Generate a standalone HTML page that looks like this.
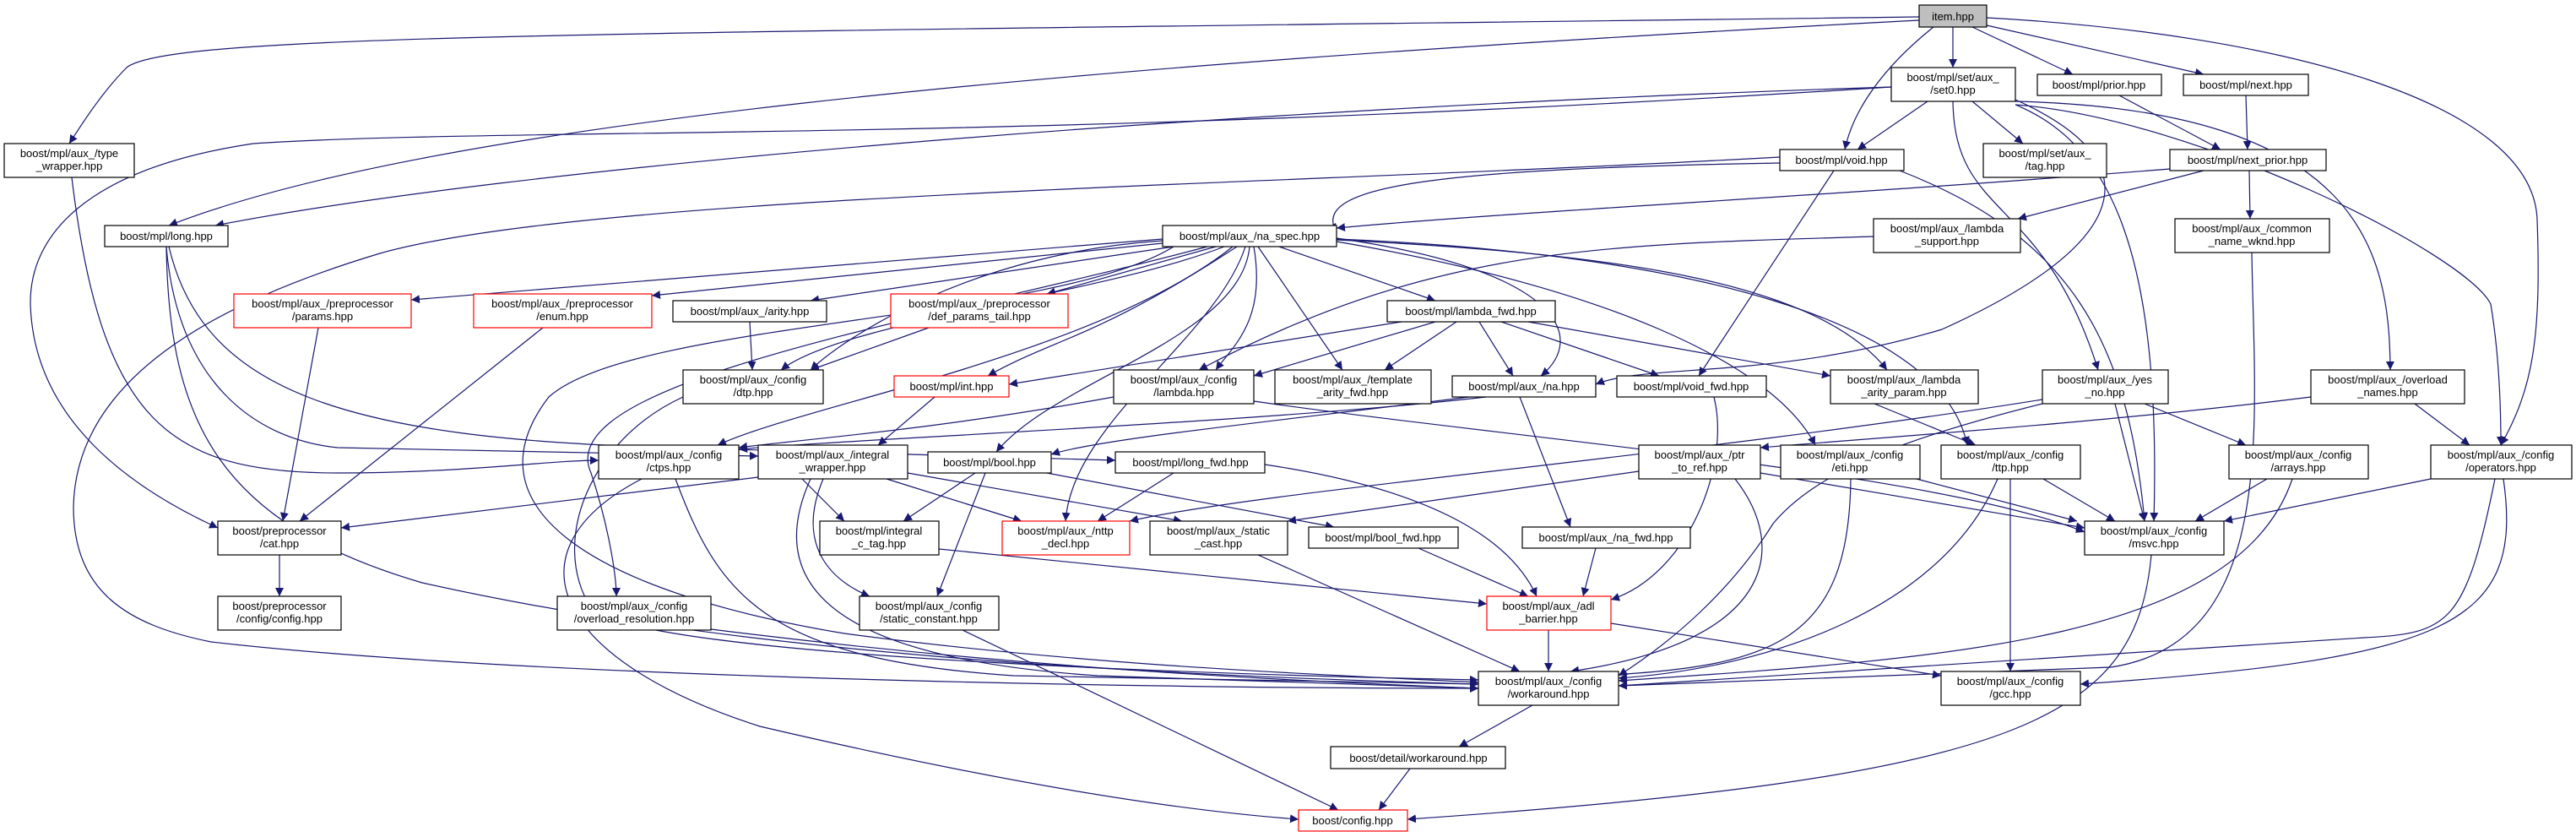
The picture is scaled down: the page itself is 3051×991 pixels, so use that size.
<!DOCTYPE html>
<html><head><meta charset="utf-8"><style>
html,body{margin:0;padding:0;background:#fff;}
svg{display:block;}
text{font-family:"Liberation Sans",sans-serif;font-size:13px;fill:#000;text-anchor:middle;}
.n{fill:#fff;stroke:#000;stroke-width:1.2;}
.r{fill:#fff;stroke:#ff0000;stroke-width:1.2;}
.e{fill:none;stroke:#191970;stroke-width:1.2;}
</style></head><body>
<svg width="3051" height="991" viewBox="0 0 3051 991" xmlns="http://www.w3.org/2000/svg">
<defs><marker id="a" viewBox="0 0 10 10" refX="10" refY="5" markerWidth="10" markerHeight="10" markerUnits="userSpaceOnUse" orient="auto"><path d="M0,0 L10,5 L0,10 z" fill="#191970"/></marker></defs>
<g class="e" marker-end="url(#a)">
<path d="M2273,20 C700,40 200,40 150,80 C120,110 95,150 82,170"/>
<path d="M2273,24 C1200,80 500,150 200,267"/>
<path d="M2290,32 C2230,80 2195,130 2185,177"/>
<path d="M2313,32 L2313,80"/>
<path d="M2336,32 L2455,88"/>
<path d="M2353,30 L2610,88"/>
<path d="M2353,21 C2700,40 3000,120 3005,260 C3010,400 3000,460 2962,527"/>
<path d="M2240,103 C1400,130 600,200 255,267"/>
<path d="M2283,120 L2200,177"/>
<path d="M2336,120 L2396,170"/>
<path d="M2313,120 C2315,260 2420,230 2485,438"/>
<path d="M2387,120 C2800,130 2830,300 2831,438"/>
<path d="M2387,124 C2600,140 2920,300 2950,360 C2960,420 2962,480 2962,527"/>
<path d="M2387,118 C2570,200 2500,300 2300,390 C2100,450 1950,430 1890,455"/>
<path d="M2240,103 C1200,170 600,150 300,170 C100,200 35,280 36,360 C40,500 160,580 258,625"/>
<path d="M2387,124 C2500,170 2560,300 2551,617"/>
<path d="M2510,113 L2630,177"/>
<path d="M2660,113 L2662,177"/>
<path d="M2570,200 C2200,230 1800,250 1583,270"/>
<path d="M2610,202 L2390,259"/>
<path d="M2664,202 L2665,259"/>
<path d="M2667,299 C2670,500 2700,760 2500,790 L1917,812"/>
<path d="M2108,193 C1700,200 1550,220 1583,275"/>
<path d="M2172,202 L2012,445"/>
<path d="M2250,202 C2450,280 2520,400 2540,617"/>
<path d="M2108,186 C1500,220 700,230 450,300 C250,360 90,450 87,600 C87,700 150,740 250,760 C600,800 1300,815 1751,815"/>
<path d="M2219,280 C1900,290 1700,290 1420,438"/>
<path d="M1377,283 L487,355"/>
<path d="M1377,288 L772,350"/>
<path d="M1390,292 L960,356"/>
<path d="M1440,292 L1240,348"/>
<path d="M1450,292 C1300,350 1000,380 925,438"/>
<path d="M1377,285 C1150,300 1000,400 960,438"/>
<path d="M1465,292 C1300,400 1250,400 1170,445"/>
<path d="M1485,292 C1500,380 1460,410 1440,438"/>
<path d="M1490,292 L1590,438"/>
<path d="M1515,292 L1700,356"/>
<path d="M1583,282 C1850,320 1880,400 1825,445"/>
<path d="M1583,284 C1900,300 2150,330 2235,438"/>
<path d="M1583,283 C2000,300 2300,380 2330,527"/>
<path d="M1583,286 C1900,340 2100,430 2150,527"/>
<path d="M1475,292 C1440,400 1270,500 1262,617"/>
<path d="M1480,292 C1470,400 1250,450 1180,535"/>
<path d="M1460,292 C1300,420 950,480 850,527"/>
<path d="M1430,292 C1100,380 650,450 700,560 C720,620 730,680 730,706"/>
<path d="M1390,292 C1250,380 750,380 650,470 C550,600 700,700 1000,750 C1300,790 1600,800 1751,808"/>
<path d="M1660,381 L1195,455"/>
<path d="M1700,381 L1485,445"/>
<path d="M1725,381 L1640,438"/>
<path d="M1752,381 L1792,445"/>
<path d="M1778,381 L1965,445"/>
<path d="M1810,381 L2168,445"/>
<path d="M197,292 C210,450 300,520 400,530 L898,540"/>
<path d="M200,292 C240,460 400,520 800,530 C1000,535 1200,540 1321,545"/>
<path d="M197,292 C200,500 260,620 500,690 C900,780 1400,800 1751,810"/>
<path d="M85,210 C120,500 200,560 400,560 C550,560 650,545 709,545"/>
<path d="M377,388 L335,617"/>
<path d="M643,388 L355,617"/>
<path d="M888,381 L891,438"/>
<path d="M1100,388 L960,438"/>
<path d="M809,470 C700,520 650,640 700,720 C760,780 1500,800 1751,805"/>
<path d="M1107,470 L1040,527"/>
<path d="M1319,470 C1100,510 950,520 875,530"/>
<path d="M1485,475 C1800,520 2300,560 2469,630"/>
<path d="M1740,470 C1500,500 1300,520 1245,538"/>
<path d="M1760,470 C1500,500 1000,520 875,532"/>
<path d="M1800,470 L1860,624"/>
<path d="M2030,470 C2050,550 2000,680 1908,710"/>
<path d="M2220,478 L2340,527"/>
<path d="M2737,470 C2500,500 2200,520 2085,530"/>
<path d="M2540,478 L2660,527"/>
<path d="M2505,478 L2540,617"/>
<path d="M2419,473 C2000,540 1500,580 1338,617"/>
<path d="M2419,478 C2250,520 2150,560 2100,620 C2050,700 1980,760 1917,800"/>
<path d="M2860,478 L2925,527"/>
<path d="M898,565 L404,625"/>
<path d="M800,567 C850,700 900,780 1200,800 L1751,810"/>
<path d="M760,567 C600,650 650,780 900,860 C1200,930 1400,960 1538,970"/>
<path d="M950,567 L1000,617"/>
<path d="M1050,567 L1210,617"/>
<path d="M975,567 C940,650 990,690 1030,706"/>
<path d="M960,567 C900,700 1000,780 1300,800 L1751,815"/>
<path d="M1075,560 L1400,617"/>
<path d="M1155,560 L1070,617"/>
<path d="M1167,560 L1110,706"/>
<path d="M1240,560 L1580,624"/>
<path d="M1390,560 L1300,617"/>
<path d="M1498,550 C1700,580 1790,640 1820,706"/>
<path d="M1112,650 L1761,715"/>
<path d="M1140,746 L1585,959"/>
<path d="M1490,657 L1800,795"/>
<path d="M1680,649 L1810,706"/>
<path d="M1890,649 L1875,706"/>
<path d="M1834,746 L1834,795"/>
<path d="M1908,738 L2299,800"/>
<path d="M1815,835 L1728,884"/>
<path d="M1670,910 L1633,959"/>
<path d="M2548,657 C2530,850 2400,920 1667,970"/>
<path d="M2085,560 L2469,625"/>
<path d="M1941,558 L1525,617"/>
<path d="M2055,567 C2120,650 2100,760 1860,795"/>
<path d="M2270,567 L2460,617"/>
<path d="M2192,567 C2190,760 2100,790 1890,800"/>
<path d="M2366,567 C2300,720 2100,790 1917,803"/>
<path d="M2381,567 L2381,795"/>
<path d="M2420,567 L2505,617"/>
<path d="M2685,567 L2600,617"/>
<path d="M2715,567 C2650,760 2300,780 1917,806"/>
<path d="M2879,567 L2634,617"/>
<path d="M2955,567 C2920,740 2900,750 2800,755 L1917,812"/>
<path d="M2965,567 C2990,740 2900,780 2464,810"/>
<path d="M842,745 C1200,790 1500,805 1751,815"/>
<path d="M331,657 L331,706"/>
</g>
<g>
<rect x="2273" y="6" width="80" height="26" fill="#bfbfbf" stroke="#000" stroke-width="1.2"/><text x="2313" y="24">item.hpp</text>
<rect class="n" x="5" y="170" width="154" height="40"/><text x="82" y="186">boost/mpl/aux_/type</text><text x="82" y="201">_wrapper.hpp</text>
<rect class="n" x="124" y="267" width="146" height="25"/><text x="197" y="284">boost/mpl/long.hpp</text>
<rect class="r" x="277" y="348" width="210" height="40"/><text x="382" y="364">boost/mpl/aux_/preprocessor</text><text x="382" y="379">/params.hpp</text>
<rect class="r" x="561" y="348" width="211" height="40"/><text x="666" y="364">boost/mpl/aux_/preprocessor</text><text x="666" y="379">/enum.hpp</text>
<rect class="n" x="797" y="356" width="182" height="25"/><text x="888" y="373">boost/mpl/aux_/arity.hpp</text>
<rect class="n" x="809" y="438" width="166" height="40"/><text x="892" y="454">boost/mpl/aux_/config</text><text x="892" y="469">/dtp.hpp</text>
<rect class="n" x="1377" y="267" width="206" height="25"/><text x="1480" y="284">boost/mpl/aux_/na_spec.hpp</text>
<rect class="r" x="1055" y="348" width="210" height="40"/><text x="1160" y="364">boost/mpl/aux_/preprocessor</text><text x="1160" y="379">/def_params_tail.hpp</text>
<rect class="n" x="1643" y="356" width="199" height="25"/><text x="1742" y="373">boost/mpl/lambda_fwd.hpp</text>
<rect class="r" x="1059" y="445" width="136" height="25"/><text x="1127" y="462">boost/mpl/int.hpp</text>
<rect class="n" x="1319" y="438" width="166" height="40"/><text x="1402" y="454">boost/mpl/aux_/config</text><text x="1402" y="469">/lambda.hpp</text>
<rect class="n" x="1510" y="438" width="185" height="40"/><text x="1602" y="454">boost/mpl/aux_/template</text><text x="1602" y="469">_arity_fwd.hpp</text>
<rect class="n" x="1720" y="445" width="170" height="25"/><text x="1805" y="462">boost/mpl/aux_/na.hpp</text>
<rect class="n" x="1915" y="445" width="177" height="25"/><text x="2003" y="462">boost/mpl/void_fwd.hpp</text>
<rect class="n" x="2240" y="80" width="147" height="40"/><text x="2313" y="96">boost/mpl/set/aux_</text><text x="2313" y="111">/set0.hpp</text>
<rect class="n" x="2413" y="88" width="147" height="25"/><text x="2486" y="105">boost/mpl/prior.hpp</text>
<rect class="n" x="2586" y="88" width="148" height="25"/><text x="2660" y="105">boost/mpl/next.hpp</text>
<rect class="n" x="2108" y="177" width="147" height="25"/><text x="2181" y="194">boost/mpl/void.hpp</text>
<rect class="n" x="2349" y="170" width="146" height="40"/><text x="2422" y="186">boost/mpl/set/aux_</text><text x="2422" y="201">/tag.hpp</text>
<rect class="n" x="2570" y="177" width="185" height="25"/><text x="2662" y="194">boost/mpl/next_prior.hpp</text>
<rect class="n" x="2219" y="259" width="174" height="40"/><text x="2306" y="275">boost/mpl/aux_/lambda</text><text x="2306" y="290">_support.hpp</text>
<rect class="n" x="2576" y="259" width="183" height="40"/><text x="2667" y="275">boost/mpl/aux_/common</text><text x="2667" y="290">_name_wknd.hpp</text>
<rect class="n" x="2168" y="438" width="175" height="40"/><text x="2255" y="454">boost/mpl/aux_/lambda</text><text x="2255" y="469">_arity_param.hpp</text>
<rect class="n" x="2419" y="438" width="149" height="40"/><text x="2493" y="454">boost/mpl/aux_/yes</text><text x="2493" y="469">_no.hpp</text>
<rect class="n" x="2737" y="438" width="182" height="40"/><text x="2828" y="454">boost/mpl/aux_/overload</text><text x="2828" y="469">_names.hpp</text>
<rect class="n" x="709" y="527" width="166" height="40"/><text x="792" y="543">boost/mpl/aux_/config</text><text x="792" y="558">/ctps.hpp</text>
<rect class="n" x="898" y="527" width="177" height="40"/><text x="986" y="543">boost/mpl/aux_/integral</text><text x="986" y="558">_wrapper.hpp</text>
<rect class="n" x="258" y="617" width="146" height="40"/><text x="331" y="633">boost/preprocessor</text><text x="331" y="648">/cat.hpp</text>
<rect class="n" x="258" y="706" width="146" height="40"/><text x="331" y="722">boost/preprocessor</text><text x="331" y="737">/config/config.hpp</text>
<rect class="n" x="660" y="706" width="182" height="40"/><text x="751" y="722">boost/mpl/aux_/config</text><text x="751" y="737">/overload_resolution.hpp</text>
<rect class="n" x="971" y="617" width="141" height="40"/><text x="1041" y="633">boost/mpl/integral</text><text x="1041" y="648">_c_tag.hpp</text>
<rect class="n" x="1018" y="706" width="165" height="40"/><text x="1100" y="722">boost/mpl/aux_/config</text><text x="1100" y="737">/static_constant.hpp</text>
<rect class="n" x="1099" y="535" width="146" height="25"/><text x="1172" y="552">boost/mpl/bool.hpp</text>
<rect class="n" x="1321" y="535" width="177" height="25"/><text x="1410" y="552">boost/mpl/long_fwd.hpp</text>
<rect class="r" x="1187" y="617" width="151" height="40"/><text x="1262" y="633">boost/mpl/aux_/nttp</text><text x="1262" y="648">_decl.hpp</text>
<rect class="n" x="1362" y="617" width="163" height="40"/><text x="1443" y="633">boost/mpl/aux_/static</text><text x="1443" y="648">_cast.hpp</text>
<rect class="n" x="1550" y="624" width="177" height="25"/><text x="1638" y="641">boost/mpl/bool_fwd.hpp</text>
<rect class="n" x="1803" y="624" width="199" height="25"/><text x="1902" y="641">boost/mpl/aux_/na_fwd.hpp</text>
<rect class="n" x="1941" y="527" width="144" height="40"/><text x="2013" y="543">boost/mpl/aux_/ptr</text><text x="2013" y="558">_to_ref.hpp</text>
<rect class="r" x="1761" y="706" width="147" height="40"/><text x="1834" y="722">boost/mpl/aux_/adl</text><text x="1834" y="737">_barrier.hpp</text>
<rect class="n" x="1751" y="795" width="166" height="40"/><text x="1834" y="811">boost/mpl/aux_/config</text><text x="1834" y="826">/workaround.hpp</text>
<rect class="n" x="1576" y="884" width="207" height="26"/><text x="1680" y="902">boost/detail/workaround.hpp</text>
<rect class="r" x="1538" y="959" width="129" height="25"/><text x="1602" y="976">boost/config.hpp</text>
<rect class="n" x="2109" y="527" width="165" height="40"/><text x="2191" y="543">boost/mpl/aux_/config</text><text x="2191" y="558">/eti.hpp</text>
<rect class="n" x="2299" y="527" width="165" height="40"/><text x="2381" y="543">boost/mpl/aux_/config</text><text x="2381" y="558">/ttp.hpp</text>
<rect class="n" x="2640" y="527" width="165" height="40"/><text x="2722" y="543">boost/mpl/aux_/config</text><text x="2722" y="558">/arrays.hpp</text>
<rect class="n" x="2879" y="527" width="167" height="40"/><text x="2962" y="543">boost/mpl/aux_/config</text><text x="2962" y="558">/operators.hpp</text>
<rect class="n" x="2469" y="617" width="165" height="40"/><text x="2551" y="633">boost/mpl/aux_/config</text><text x="2551" y="648">/msvc.hpp</text>
<rect class="n" x="2299" y="795" width="165" height="40"/><text x="2381" y="811">boost/mpl/aux_/config</text><text x="2381" y="826">/gcc.hpp</text>
</g>
</svg>
</body></html>
